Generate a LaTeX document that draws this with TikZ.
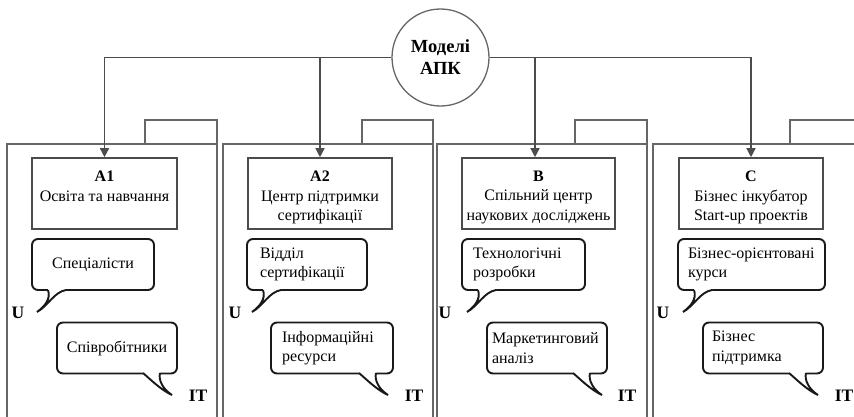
\documentclass[tikz,border=0pt]{standalone}
\usepackage{fontspec}
\setmainfont{Liberation Serif}
\usetikzlibrary{arrows.meta}

\tikzset{
  panel/.style={draw=black!60, line width=1.1pt},
  link/.style={draw=black!70, line width=1.4pt, -{Triangle[width=9pt,length=9pt]}},
  hdr/.style={draw=black!70, line width=1.6pt, inner sep=0pt, fill=white},
  bubble/.style={draw=black!90, line width=1.9pt, rounded corners=6pt,
    minimum height=51pt, inner sep=0pt, fill=white,
    font=\fontsize{16}{19.5}\selectfont},
  tailline/.style={draw=black!90, line width=1.9pt},
  side/.style={font=\fontsize{17.5}{20}\selectfont\bfseries, inner sep=0pt},
  hub/.style={circle, draw=black!60, line width=1.3pt, minimum size=97pt,
    inner sep=0pt, fill=white, align=center,
    font=\fontsize{18.5}{22}\selectfont\bfseries}
}

% header box contents: bold code line and the title beneath it
\newcommand\hdrtext[3]{\parbox[c][71pt][t]{#1pt}{\centering\fontsize{16}{19.5}\selectfont
  \vspace*{13pt}\textbf{#2}\\#3}}
% centred / left-aligned bubble contents (width, [indent,] text)
\newcommand\ctext[2]{\parbox{#1pt}{\centering #2}}
\newcommand\ltext[3]{\parbox{#1pt}{\raggedright\leftskip=#2pt #3}}

% bubble tail pointing down-left: left edge x, bottom edge y
\newcommand\tailLeft[2]{%
  \fill[white] (#1+16,#2-1.2) -- (#1+16,#2)
    .. controls (#1+19,#2+9) and (#1+13,#2+16) .. (#1+5,#2+22)
    .. controls (#1+16,#2+16) and (#1+22,#2+2) .. (#1+34,#2)
    -- (#1+34,#2-1.2) -- cycle;
  \draw[tailline] (#1+16,#2)
    .. controls (#1+19,#2+9) and (#1+13,#2+16) .. (#1+5,#2+22)
    .. controls (#1+16,#2+16) and (#1+22,#2+2) .. (#1+34,#2);
}
% bubble tail pointing down-right: right edge x, bottom edge y
\newcommand\tailRight[2]{%
  \fill[white] (#1-34,#2-1.2) -- (#1-34,#2)
    .. controls (#1-27,#2+6) and (#1-16,#2+17) .. (#1-5,#2+22)
    .. controls (#1-13,#2+17) and (#1-19,#2+8) .. (#1-17,#2)
    -- (#1-17,#2-1.2) -- cycle;
  \draw[tailline] (#1-34,#2)
    .. controls (#1-27,#2+6) and (#1-16,#2+17) .. (#1-5,#2+22)
    .. controls (#1-13,#2+17) and (#1-19,#2+8) .. (#1-17,#2);
}

\begin{document}
\begin{tikzpicture}[x=1pt, y=-1pt]
\useasboundingbox (0,0) rectangle (854,416);
\clip (0,0) rectangle (854,416);

% four folder-like panels with tabs
\draw[panel] (7,430) |- (217,144);
\draw[panel] (145,144) |- (217,120) -- (217,430);
\draw[panel] (223,430) |- (433,144);
\draw[panel] (362,144) |- (433,120) -- (433,430);
\draw[panel] (437,430) |- (647,144);
\draw[panel] (575,144) |- (647,120) -- (647,430);
\draw[panel] (653,430) |- (870,144);
\draw[panel] (790,144) |- (870,120);

% header boxes
\node[hdr] (h1) at (104.5,193.5) {\hdrtext{145}{A1}{Освіта та навчання}};
\node[hdr] (h2) at (320,193.5) {\hdrtext{144}{A2}{Центр підтримки\\сертифікації}};
\node[hdr] (h3) at (538.5,193.5) {\hdrtext{153}{B}{Спільний центр\\наукових досліджень}};
\node[hdr] (h4) at (751,193.5) {\hdrtext{144}{C}{Бізнес інкубатор\\Start-up проектів}};

% hub and its links
\node[hub] (m) at (440.5,57.5) {Моделі\\АПК};
\draw[link] (m.west) -| (h1.north);
\draw[link] (m.west) -| (h2.north);
\draw[link] (m.east) -| ([xshift=-3.5pt]h3.north);
\draw[link] (m.east) -| (h4.north);

% upper bubbles (U)
\node[bubble, minimum width=122pt] (u1) at (93,264.5) {\ctext{122}{Спеціалісти}};
\node[bubble, minimum width=120pt] (u2) at (307,264.5) {\ltext{120}{13}{Відділ\\сертифікації}};
\node[bubble, minimum width=123pt] (u3) at (523.5,264.5) {\ltext{123}{11}{Технологічні\\розробки}};
\node[bubble, minimum width=147pt] (u4) at (751.5,264.5) {\ltext{147}{10}{Бізнес-орієнтовані\\курси}};
\tailLeft{32}{290}
\tailLeft{247}{290}
\tailLeft{462}{290}
\tailLeft{678}{290}

% lower bubbles (IT)
\node[bubble, minimum width=120pt] (t1) at (117,348) {\ctext{120}{Співробітники}};
\node[bubble, minimum width=122pt] (t2) at (332,348) {\ltext{122}{11}{Інформаційні\\ресурси}};
\node[bubble, minimum width=120pt] (t3) at (547,348) {\ltext{120}{5}{Маркетинговий\\аналіз}};
\node[bubble, minimum width=120pt] (t4) at (763,348) {\ltext{120}{9}{Бізнес\\підтримка}};
\tailRight{177}{373}
\tailRight{393}{373}
\tailRight{607}{373}
\tailRight{823}{373}

% side letters
\node[side] (lu1) at (18,313) {U};
\node[side] (lu2) at (235,313) {U};
\node[side] (lu3) at (445,313) {U};
\node[side] (lu4) at (663,313) {U};
\node[side] (li1) at (198,396) {IT};
\node[side] (li2) at (414,396) {IT};
\node[side] (li3) at (627,396) {IT};
\node[side] (li4) at (844,396) {IT};
\end{tikzpicture}
\end{document}
